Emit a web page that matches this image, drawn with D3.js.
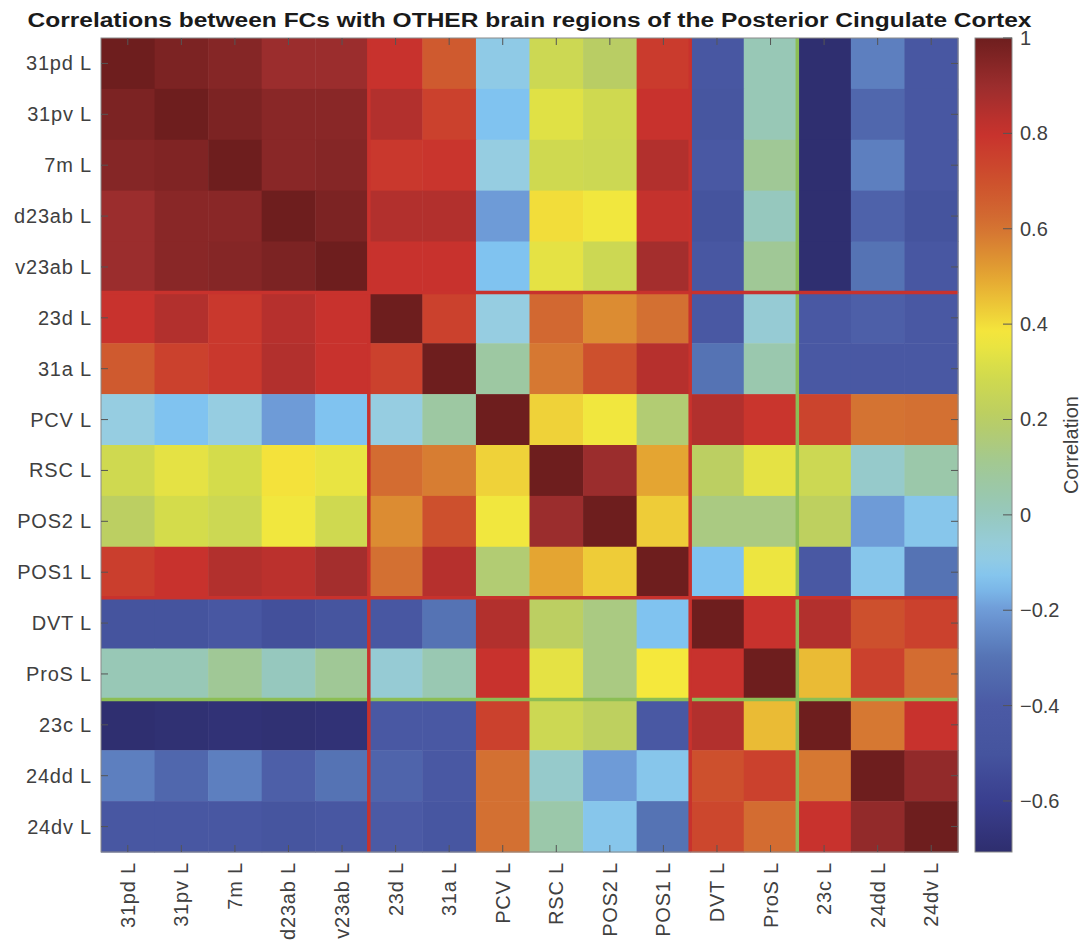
<!DOCTYPE html>
<html>
<head>
<meta charset="utf-8">
<script src="https://cdn.jsdelivr.net/npm/d3@7"></script>
<style>
  body { margin: 0; background: #fff; }
  text { font-family: "Liberation Sans", Arial, Helvetica, sans-serif; }
</style>
</head>
<body>
<svg id="chart" width="1084" height="945"></svg>
<script>
// regiones del PCC (filas y columnas en el mismo orden)
const regions = ['31pd L', '31pv L', '7m L', 'd23ab L', 'v23ab L', '23d L', '31a L', 'PCV L',
  'RSC L', 'POS2 L', 'POS1 L', 'DVT L', 'ProS L', '23c L', '24dd L', '24dv L'];

// correlaciones, una fila por región
const corrRows = [
  [1.00, 0.97, 0.95, 0.90, 0.90, 0.80, 0.67, -0.10, 0.27, 0.20, 0.77, -0.45, 0.02, -0.70, -0.27, -0.45],
  [0.97, 1.00, 0.97, 0.94, 0.94, 0.85, 0.75, -0.14, 0.33, 0.28, 0.80, -0.47, 0.02, -0.70, -0.35, -0.45],
  [0.95, 0.96, 1.00, 0.94, 0.95, 0.78, 0.79, -0.08, 0.28, 0.27, 0.85, -0.43, 0.10, -0.70, -0.27, -0.45],
  [0.90, 0.94, 0.94, 1.00, 0.97, 0.85, 0.85, -0.20, 0.40, 0.37, 0.81, -0.50, 0.00, -0.70, -0.37, -0.50],
  [0.90, 0.94, 0.95, 0.97, 1.00, 0.80, 0.80, -0.14, 0.34, 0.27, 0.88, -0.45, 0.10, -0.70, -0.30, -0.45],
  [0.80, 0.85, 0.78, 0.84, 0.80, 1.00, 0.75, -0.08, 0.63, 0.55, 0.61, -0.43, -0.05, -0.43, -0.38, -0.43],
  [0.67, 0.75, 0.78, 0.85, 0.80, 0.75, 1.00, 0.07, 0.59, 0.70, 0.84, -0.30, 0.04, -0.43, -0.43, -0.43],
  [-0.08, -0.14, -0.08, -0.20, -0.14, -0.08, 0.07, 1.00, 0.42, 0.37, 0.17, 0.85, 0.79, 0.74, 0.60, 0.61],
  [0.28, 0.34, 0.30, 0.39, 0.35, 0.62, 0.58, 0.42, 1.00, 0.90, 0.50, 0.21, 0.34, 0.27, -0.03, 0.05],
  [0.21, 0.30, 0.27, 0.37, 0.28, 0.55, 0.70, 0.37, 0.90, 1.00, 0.43, 0.14, 0.14, 0.22, -0.20, -0.12],
  [0.76, 0.80, 0.85, 0.83, 0.88, 0.61, 0.84, 0.17, 0.50, 0.43, 1.00, -0.14, 0.36, -0.43, -0.12, -0.30],
  [-0.50, -0.50, -0.45, -0.52, -0.48, -0.45, -0.30, 0.85, 0.21, 0.14, -0.14, 1.00, 0.80, 0.85, 0.70, 0.75],
  [0.02, 0.02, 0.10, 0.00, 0.10, -0.05, 0.03, 0.80, 0.34, 0.14, 0.38, 0.80, 1.00, 0.46, 0.75, 0.62],
  [-0.70, -0.69, -0.68, -0.69, -0.68, -0.43, -0.43, 0.75, 0.27, 0.22, -0.43, 0.85, 0.46, 1.00, 0.59, 0.80],
  [-0.27, -0.35, -0.27, -0.38, -0.30, -0.36, -0.43, 0.61, -0.03, -0.20, -0.12, 0.70, 0.75, 0.59, 1.00, 0.92],
  [-0.45, -0.45, -0.45, -0.48, -0.45, -0.40, -0.46, 0.61, 0.05, -0.12, -0.30, 0.73, 0.62, 0.80, 0.92, 1.00]
];

const colorTicks = [-0.6, -0.4, -0.2, 0, 0.2, 0.4, 0.6, 0.8, 1];
const redBreaks = [5, 11];   // separadores rojos entre grupos
const greenBreaks = [13];    // separador verde

// mapa de colores aproximado al de la barra
const cmapStops = [-0.707, -0.6, -0.5, -0.4, -0.3, -0.2, -0.14, -0.08, 0, 0.1, 0.2, 0.3, 0.38, 0.5, 0.6, 0.7, 0.8, 0.9, 1];
const cmapColors = ['#2e2e6e', '#3a3f8f', '#45549e', '#4b5aa5', '#5573b4', '#6e9bd7', '#80c3f0', '#96cde1',
  '#96c8be', '#a0c896', '#b9cd64', '#d4dc4b', '#f5e83c', '#e4a532', '#d47332', '#cd502d', '#c8322d', '#9b2d2d', '#6e1e1e'];

const W = 1084, H = 945;
const plot = { left: 101, top: 38, right: 958, bottom: 852 };
const cbar = { left: 975, right: 1012 };
const textColor = '#404040';

const svg = d3.select('#chart');
svg.append('rect').attr('width', W).attr('height', H).attr('fill', '#fff');

const x = d3.scaleBand().domain(regions).range([plot.left, plot.right]);
const y = d3.scaleBand().domain(regions).range([plot.top, plot.bottom]);
const color = d3.scaleLinear().domain(cmapStops).range(cmapColors)
  .interpolate(d3.interpolateRgb).clamp(true);

const cells = [];
corrRows.forEach((row, i) => {
  row.forEach((v, j) => cells.push({ r: regions[i], c: regions[j], v: v }));
});

// celdas
svg.append('g')
  .selectAll('rect')
  .data(cells)
  .join('rect')
  .attr('x', d => x(d.c))
  .attr('y', d => y(d.r))
  .attr('width', x.bandwidth() + 0.5)
  .attr('height', y.bandwidth() + 0.5)
  .attr('fill', d => color(d.v));

// separadores (verde debajo, rojo encima)
const sepG = svg.append('g');
function drawBreaks(breaks, stroke) {
  breaks.forEach(b => {
    const xp = plot.left + b * x.step();
    const yp = plot.top + b * y.step();
    sepG.append('line')
      .attr('x1', xp).attr('x2', xp)
      .attr('y1', plot.top).attr('y2', plot.bottom)
      .attr('stroke', stroke).attr('stroke-width', 3.5);
    sepG.append('line')
      .attr('x1', plot.left).attr('x2', plot.right)
      .attr('y1', yp).attr('y2', yp)
      .attr('stroke', stroke).attr('stroke-width', 3.5);
  });
}
drawBreaks(greenBreaks, '#8cbe55');
drawBreaks(redBreaks, '#c8322d');

// marco y marcas de los ejes
svg.append('rect')
  .attr('x', plot.left).attr('y', plot.top)
  .attr('width', plot.right - plot.left).attr('height', plot.bottom - plot.top)
  .attr('fill', 'none').attr('stroke', '#8a8a8a').attr('stroke-width', 1);

const tickLen = 7;
const ticks = svg.append('g').attr('stroke', '#555').attr('stroke-width', 1);
regions.forEach(r => {
  const cx = x(r) + x.bandwidth() / 2;
  const cy = y(r) + y.bandwidth() / 2;
  ticks.append('line').attr('x1', cx).attr('x2', cx).attr('y1', plot.bottom).attr('y2', plot.bottom - tickLen);
  ticks.append('line').attr('x1', cx).attr('x2', cx).attr('y1', plot.top).attr('y2', plot.top + tickLen);
  ticks.append('line').attr('x1', plot.left).attr('x2', plot.left + tickLen).attr('y1', cy).attr('y2', cy);
  ticks.append('line').attr('x1', plot.right).attr('x2', plot.right - tickLen).attr('y1', cy).attr('y2', cy);
});

// etiquetas Y
svg.append('g')
  .selectAll('text')
  .data(regions)
  .join('text')
  .attr('x', 92)
  .attr('y', d => y(d) + y.bandwidth() / 2)
  .attr('dy', '0.35em')
  .attr('text-anchor', 'end')
  .attr('font-size', '20px')
  .attr('letter-spacing', '0.8px')
  .attr('fill', textColor)
  .text(d => d);

// etiquetas X (giradas)
svg.append('g')
  .selectAll('text')
  .data(regions)
  .join('text')
  .attr('transform', d => `translate(${x(d) + x.bandwidth() / 2},862) rotate(-90)`)
  .attr('dy', '0.35em')
  .attr('text-anchor', 'end')
  .attr('font-size', '20px')
  .attr('letter-spacing', '0.8px')
  .attr('fill', textColor)
  .text(d => d);

// título
svg.append('text')
  .attr('x', (plot.left + plot.right) / 2)
  .attr('y', 27)
  .attr('text-anchor', 'middle')
  .attr('font-size', '20px')
  .attr('font-weight', 'bold')
  .attr('fill', '#1a1a1a')
  .attr('textLength', 1004)
  .attr('lengthAdjust', 'spacingAndGlyphs')
  .text('Correlations between FCs with OTHER brain regions of the Posterior Cingulate Cortex');

// barra de color
const cy = d3.scaleLinear().domain([cmapStops[0], 1]).range([plot.bottom, plot.top]);
const grad = svg.append('defs').append('linearGradient')
  .attr('id', 'cbarGrad')
  .attr('x1', 0).attr('y1', 1).attr('x2', 0).attr('y2', 0);
d3.range(0, 1.0001, 0.02).forEach(t => {
  const v = cmapStops[0] + t * (1 - cmapStops[0]);
  grad.append('stop').attr('offset', t).attr('stop-color', color(v));
});
svg.append('rect')
  .attr('x', cbar.left).attr('y', plot.top)
  .attr('width', cbar.right - cbar.left).attr('height', plot.bottom - plot.top)
  .attr('fill', 'url(#cbarGrad)')
  .attr('stroke', '#8a8a8a').attr('stroke-width', 1);

const cbAxis = svg.append('g');
colorTicks.forEach(t => {
  cbAxis.append('line')
    .attr('x1', cbar.right).attr('x2', cbar.right - 9)
    .attr('y1', cy(t)).attr('y2', cy(t))
    .attr('stroke', '#555').attr('stroke-width', 1);
  cbAxis.append('text')
    .attr('x', 1020).attr('y', cy(t))
    .attr('dy', '0.35em')
    .attr('font-size', '20px')
    .attr('fill', textColor)
    .text(d3.format('~g')(t));
});

svg.append('text')
  .attr('transform', `translate(1078,${(plot.top + plot.bottom) / 2}) rotate(-90)`)
  .attr('text-anchor', 'middle')
  .attr('font-size', '20px')
  .attr('fill', textColor)
  .text('Correlation');
</script>
</body>
</html>
